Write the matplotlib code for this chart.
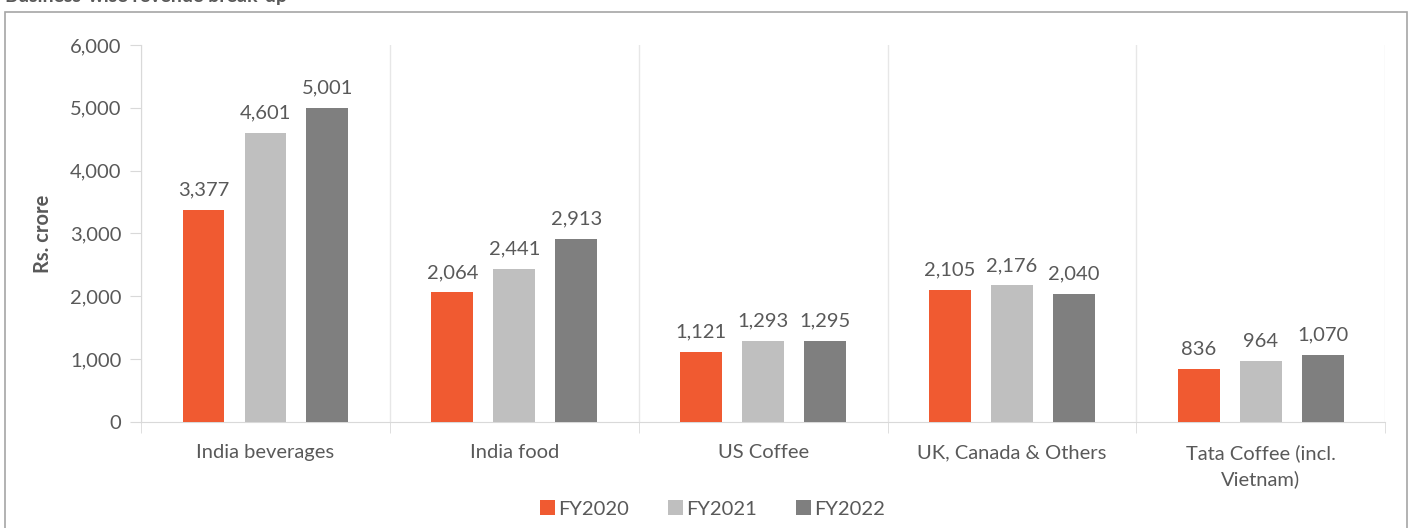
import matplotlib.pyplot as plt
from matplotlib.patches import Rectangle
import numpy as np

plt.rcParams['font.family'] = ['Lato', 'DejaVu Sans']

categories = ['India beverages', 'India food', 'US Coffee', 'UK, Canada & Others',
              'Tata Coffee (incl.\nVietnam)']
years = ['FY2020', 'FY2021', 'FY2022']
fy2020 = [3377, 2064, 1121, 2105, 836]
fy2021 = [4601, 2441, 1293, 2176, 964]
fy2022 = [5001, 2913, 1295, 2040, 1070]
colors = ['#F05A31', '#BFBFBF', '#7F7F7F']

txt = '#595959'
fs = 14.5
fig = plt.figure(figsize=(14.14, 5.28), dpi=100)
ax = fig.add_axes([0.0997, 0.2008, 0.88, 0.714])

x = np.arange(len(categories))
width = 0.168
for k, (vals, lab) in enumerate(zip([fy2020, fy2021, fy2022], years)):
    bars = ax.bar(x + (k - 1) * 0.249, vals, width, color=colors[k], label=lab, zorder=3)
    for b, v in zip(bars, vals):
        ax.annotate(f'{v:,}', (b.get_x() + b.get_width() / 2, v), xytext=(0, 8),
                    textcoords='offset points', ha='center', va='bottom',
                    fontsize=fs, color=txt)

ax.set_xlim(-0.5, len(categories) - 0.5)
ax.set_ylim(0, 6000)
ax.set_yticks(range(0, 6001, 1000))
ax.set_yticklabels([f'{v:,}' for v in range(0, 6001, 1000)], fontsize=fs, color=txt)
ax.set_xticks(x)
ax.set_xticklabels(categories, fontsize=fs, color=txt, linespacing=1.55)
ax.set_xticks(np.arange(-0.5, len(categories)), minor=True)
ax.tick_params(axis='x', which='major', length=0, pad=16)
ax.tick_params(axis='x', which='minor', length=8, color='#D9D9D9')
ax.tick_params(axis='y', length=8, color='#D9D9D9', pad=6)
ax.grid(True, axis='x', which='minor', color='#E7E7E7', linewidth=1, zorder=0)
for s in ['top', 'right']:
    ax.spines[s].set_visible(False)
ax.spines['left'].set_color('#D9D9D9')
ax.spines['bottom'].set_color('#D9D9D9')
ax.set_ylabel('Rs. crore', fontsize=fs, fontweight='bold', color=txt, labelpad=12)

fig.legend(loc='center', bbox_to_anchor=(0.504, 0.036), ncol=3, frameon=False,
           fontsize=fs, labelcolor=txt, handlelength=0.75, handleheight=0.75,
           handletextpad=0.15, columnspacing=1.95)

fig.patches.append(Rectangle((5 / 1414, -0.01), 1402 / 1414, 0.987, transform=fig.transFigure,
                             fill=False, edgecolor='#A6A6A6', linewidth=1.2))
fig.text(5 / 1414, 1 - 2 / 528, 'Business-wise revenue break-up', fontsize=14,
         fontweight='bold', color=txt, va='baseline', ha='left')

fig.savefig('out.png', dpi=100)
